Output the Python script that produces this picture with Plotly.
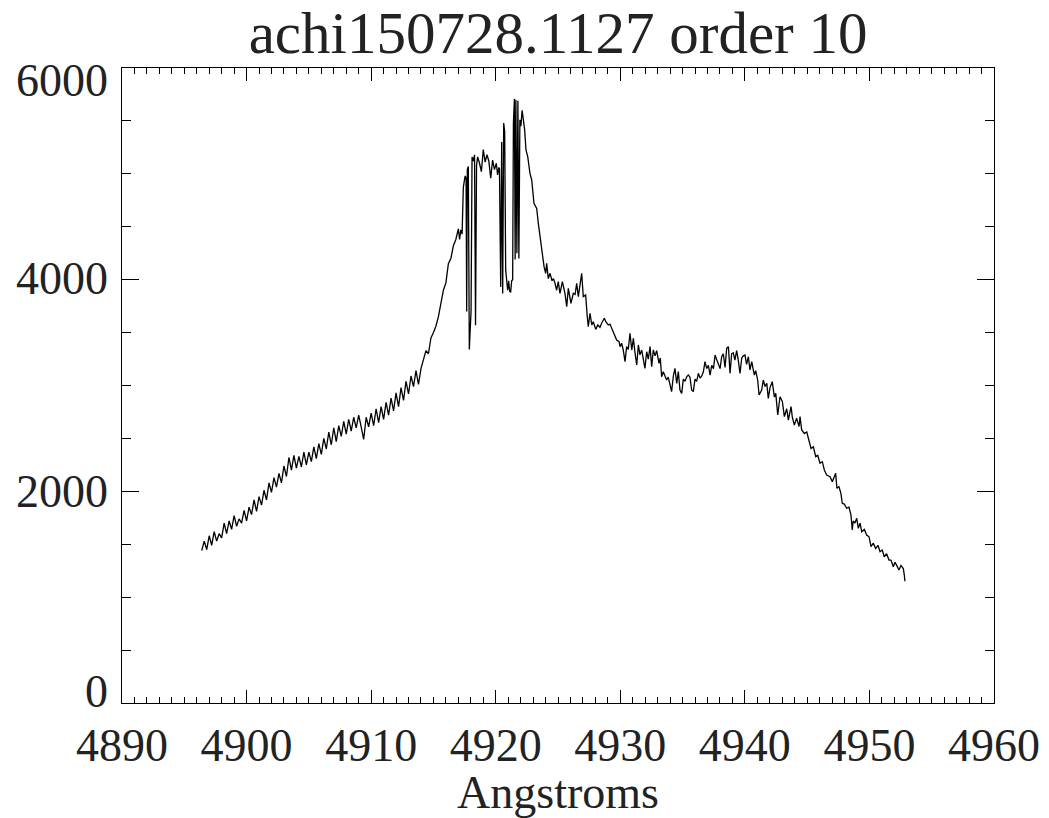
import plotly.graph_objects as go

TITLE = "achi150728.1127 order 10"
X_LABEL = "Angstroms"
X_TICKS = [4890, 4900, 4910, 4920, 4930, 4940, 4950, 4960]
Y_TICKS = [0, 2000, 4000, 6000]

# Spectrum part 1: rising wing (Angstrom, counts)
WAVE_A = [4896.4, 4896.6, 4896.8, 4897.0, 4897.2, 4897.4, 4897.6, 4897.8, 4898.0, 4898.2,
          4898.4, 4898.6, 4898.8, 4899.0, 4899.2, 4899.4, 4899.6, 4899.8, 4900.0, 4900.2,
          4900.4, 4900.6, 4900.8, 4901.0, 4901.2, 4901.4, 4901.6, 4901.8, 4902.0, 4902.2,
          4902.4, 4902.6, 4902.8, 4903.0, 4903.2, 4903.4, 4903.6, 4903.8, 4904.0, 4904.2,
          4904.4, 4904.6, 4904.8, 4905.0, 4905.2, 4905.4, 4905.6, 4905.8, 4906.0, 4906.2,
          4906.4, 4906.6, 4906.8, 4907.0, 4907.2, 4907.4, 4907.6, 4907.8, 4908.0, 4908.2,
          4908.4, 4908.6, 4908.8, 4909.0, 4909.2, 4909.4, 4909.6, 4909.8, 4910.0, 4910.2,
          4910.4, 4910.6, 4910.8, 4911.0, 4911.2, 4911.4, 4911.6, 4911.8, 4912.0, 4912.2,
          4912.4, 4912.6, 4912.8, 4913.0, 4913.2, 4913.4, 4913.6, 4913.8, 4914.0, 4914.2,
          4914.4, 4914.6, 4914.8, 4915.0, 4915.2, 4915.4, 4915.6, 4915.8, 4916.0, 4916.2,
          4916.4, 4916.6, 4916.8, 4917.0, 4917.1, 4917.2, 4917.3, 4917.4, 4917.5]
FLUX_A = [1440, 1530, 1450, 1580, 1490, 1620, 1530, 1600, 1560, 1700,
          1600, 1720, 1640, 1770, 1670, 1740, 1700, 1820, 1720, 1850,
          1780, 1920, 1810, 1950, 1870, 2010, 1920, 2080, 1990, 2130,
          2040, 2170, 2080, 2240, 2140, 2320, 2200, 2340, 2220, 2330,
          2230, 2370, 2250, 2370, 2280, 2420, 2310, 2450, 2350, 2500,
          2400, 2560, 2440, 2600, 2470, 2620, 2520, 2660, 2540, 2680,
          2570, 2700, 2600, 2720, 2610, 2490, 2700, 2610, 2740, 2620,
          2780, 2650, 2800, 2680, 2840, 2720, 2880, 2760, 2930, 2800,
          2980, 2860, 3040, 2920, 3090, 2990, 3140, 3010, 3160, 3250,
          3330, 3300, 3450, 3500, 3560, 3650, 3780, 3900, 3970, 4150,
          4200, 4320, 4380, 4480, 4380, 4470, 4430, 4870, 4950]

# Spectrum part 2: line core with absorption features
WAVE_B = [4917.55, 4917.62, 4917.67, 4917.72, 4917.80, 4917.88, 4917.95, 4918.02, 4918.10, 4918.20,
          4918.30, 4918.38, 4918.46, 4918.55, 4918.70, 4918.85, 4919.00, 4919.15, 4919.30, 4919.45,
          4919.60, 4919.75, 4919.90, 4920.05, 4920.15, 4920.25, 4920.30, 4920.40, 4920.48, 4920.56,
          4920.64, 4920.72, 4920.80, 4920.88, 4920.96, 4921.04, 4921.12, 4921.20, 4921.28, 4921.36,
          4921.42, 4921.50, 4921.56, 4921.62, 4921.70, 4921.78, 4921.86, 4921.94, 4922.02, 4922.12,
          4922.22, 4922.32, 4922.43, 4922.57, 4922.75, 4922.89, 4923.07, 4923.29, 4923.42, 4923.56,
          4923.69, 4923.88, 4924.01, 4924.09, 4924.22, 4924.36, 4924.52, 4924.64]
FLUX_B = [4980, 4960, 3700, 5040, 5070, 3340, 3650, 3700, 5160, 5120,
          5180, 3570, 5080, 5160, 5100, 5020, 5230, 5110, 5180, 5120,
          4960, 5130, 5040, 5100, 4990, 5060, 5050, 3930, 5300, 3870,
          5480, 5400, 4090, 3960, 3900, 3990, 3890, 3880, 3990, 4000,
          5480, 5710, 4190, 5700, 4250, 5690, 4200, 5510, 5450, 5600,
          5510, 5420, 5225, 5162, 5005, 4942, 4721, 4674, 4532, 4406,
          4249, 4123, 4060, 4155, 4010, 4060, 3990, 4010]

# Spectrum part 3: red wing and secondary bump
WAVE_C = [4924.76, 4924.89, 4925.02, 4925.16, 4925.35, 4925.56, 4925.70, 4925.83, 4926.04, 4926.23,
          4926.37, 4926.50, 4926.63, 4926.77, 4926.90, 4927.03, 4927.22, 4927.35, 4927.43, 4927.57,
          4927.71, 4927.83, 4928.03, 4928.19, 4928.37, 4928.51, 4928.72, 4928.85, 4929.04, 4929.17,
          4929.36, 4929.52, 4929.71, 4929.90, 4929.98, 4930.11, 4930.24, 4930.38, 4930.51, 4930.64,
          4930.78, 4930.92, 4931.05, 4931.18, 4931.32, 4931.45, 4931.58, 4931.72, 4931.85, 4931.98,
          4932.12, 4932.25, 4932.39, 4932.52, 4932.65, 4932.79, 4932.92, 4933.11, 4933.21, 4933.32,
          4933.45, 4933.59, 4933.72, 4933.85, 4933.99, 4934.12, 4934.26, 4934.39, 4934.53, 4934.66,
          4934.79, 4934.93, 4935.06, 4935.20, 4935.33, 4935.46, 4935.59, 4935.73, 4935.86, 4936.00,
          4936.13, 4936.27, 4936.40, 4936.54, 4936.67, 4936.80, 4936.94, 4937.07, 4937.21, 4937.34,
          4937.48, 4937.61, 4937.75, 4937.88, 4938.01, 4938.14, 4938.27, 4938.41, 4938.54, 4938.68,
          4938.81, 4938.94, 4939.07, 4939.20, 4939.34, 4939.47, 4939.61, 4939.75, 4939.88, 4940.01,
          4940.14]
FLUX_C = [3965, 3900, 3981, 3871, 3981, 3871, 3745, 3918, 3777, 3871,
          3860, 3965, 3840, 3934, 4060, 3840, 3855, 3650, 3556, 3682,
          3572, 3603, 3530, 3572, 3550, 3590, 3635, 3600, 3572, 3580,
          3524, 3477, 3430, 3414, 3367, 3400, 3335, 3225, 3367, 3340,
          3493, 3335, 3445, 3310, 3194, 3383, 3290, 3335, 3241, 3162,
          3319, 3250, 3367, 3178, 3335, 3280, 3330, 3210, 3260, 3083,
          3130, 3083, 3052, 3080, 3020, 2942, 3090, 3162, 3020, 3131,
          2957, 2926, 3060, 3040, 3083, 3100, 3080, 2957, 2942, 3060,
          3040, 3115, 3070, 3090, 3130, 3225, 3160, 3190, 3099, 3190,
          3160, 3288, 3240, 3190, 3160, 3272, 3300, 3170, 3351, 3367,
          3115, 3300, 3310, 3240, 3330, 3240, 3115, 3260, 3280, 3288,
          3200]

# Spectrum part 4: far red wing
WAVE_D = [4940.28, 4940.41, 4940.55, 4940.76, 4940.87, 4941.03, 4941.14, 4941.35, 4941.48, 4941.62,
          4941.76, 4941.88, 4942.02, 4942.20, 4942.37, 4942.48, 4942.64, 4942.82, 4943.01, 4943.17,
          4943.36, 4943.49, 4943.71, 4943.81, 4943.97, 4944.16, 4944.35, 4944.43, 4944.56, 4944.77,
          4944.97, 4945.15, 4945.31, 4945.50, 4945.69, 4945.85, 4946.03, 4946.22, 4946.38, 4946.57,
          4946.84, 4947.02, 4947.18, 4947.29, 4947.39, 4947.55, 4947.71, 4947.82, 4947.98, 4948.17,
          4948.36, 4948.52, 4948.62, 4948.70, 4948.84, 4948.98, 4949.11, 4949.25, 4949.38, 4949.59,
          4949.78, 4949.97, 4950.13, 4950.31, 4950.50, 4950.69, 4950.85, 4951.03, 4951.19, 4951.38,
          4951.57, 4951.73, 4951.92, 4952.05, 4952.19, 4952.37, 4952.53, 4952.72, 4952.80, 4952.85]
FLUX_D = [3272, 3147, 3225, 3099, 3140, 3052, 2910, 2957, 3052, 2990,
          3020, 2878, 2980, 3036, 2890, 2926, 2721, 2894, 2850, 2706,
          2780, 2674, 2800, 2700, 2627, 2690, 2612, 2706, 2580, 2548,
          2560, 2469, 2406, 2420, 2328, 2340, 2265, 2280, 2202, 2154,
          2139, 2091, 2139, 2170, 2028, 2045, 1981, 1887, 1880, 1840,
          1850, 1776, 1635, 1720, 1700, 1745, 1650, 1700, 1619, 1640,
          1587, 1570, 1477, 1510, 1460, 1490, 1430, 1445, 1382, 1410,
          1351, 1350, 1288, 1330, 1300, 1257, 1300, 1270, 1209, 1150]

wave = WAVE_A + WAVE_B + WAVE_C + WAVE_D
flux = FLUX_A + FLUX_B + FLUX_C + FLUX_D

FONT = "Liberation Serif"
TXT = "#222"

fig = go.Figure()
fig.add_trace(go.Scatter(x=wave, y=flux, mode="lines",
                         line=dict(color="black", width=1.3), showlegend=False,
                         hoverinfo="skip"))

fig.update_layout(
    width=1049, height=818,
    margin=dict(l=122, r=55, t=68, b=115),
    paper_bgcolor="white", plot_bgcolor="white",
    font=dict(family=FONT, color="black", size=46),
    title=dict(text=TITLE, x=0.532, xanchor="center", y=0.961, yanchor="middle",
               yref="container", font=dict(family=FONT, size=59, color=TXT)),
)

fig.update_xaxes(
    range=[4890, 4960], tickvals=X_TICKS, ticktext=[str(v) for v in X_TICKS],
    ticks="inside", ticklen=13, tickwidth=1, tickcolor="black",
    showline=True, linecolor="black", linewidth=1, mirror="allticks",
    showgrid=False, zeroline=False, ticklabelstandoff=2, automargin=False,
    tickfont=dict(family=FONT, size=46, color=TXT),
    minor=dict(ticks="inside", ticklen=6, tickwidth=1, tickcolor="black", dtick=1, showgrid=False),
    title=dict(text=X_LABEL, font=dict(family=FONT, size=46, color=TXT), standoff=5),
)
fig.update_yaxes(
    range=[0, 6000], tickvals=Y_TICKS, showticklabels=False,
    ticks="inside", ticklen=17, tickwidth=1, tickcolor="black",
    showline=True, linecolor="black", linewidth=1, mirror="allticks",
    showgrid=False, zeroline=False, automargin=False,
    minor=dict(ticks="inside", ticklen=9, tickwidth=1, tickcolor="black", dtick=500, showgrid=False),
)

# y tick labels (end labels sit slightly inside the axis range, as in the reference)
Y_SHIFTS = {0: 12, 2000: 0, 4000: 1, 6000: -12}
for v in Y_TICKS:
    fig.add_annotation(x=0, xref="paper", xanchor="right", xshift=-12,
                       y=v, yref="y", yanchor="middle", yshift=Y_SHIFTS[v],
                       text=str(v), showarrow=False,
                       font=dict(family=FONT, size=46, color=TXT))

fig.write_html("out.html")
